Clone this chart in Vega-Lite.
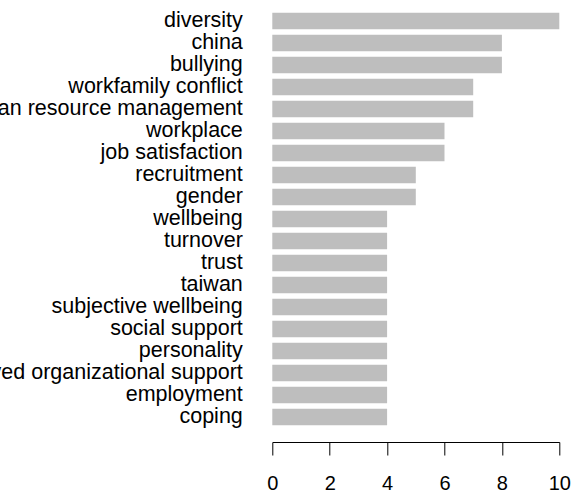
{
  "$schema": "https://vega.github.io/schema/vega-lite/v6.json",
  "autosize": {"type": "none"},
  "width": 287,
  "height": 418,
  "padding": {"left": 272.3, "right": 14.7, "top": 10, "bottom": 65},
  "background": "white",
  "config": {
    "view": {"stroke": null},
    "font": "Liberation Sans"
  },
  "data": {
    "values": [
      {"term": "diversity", "count": 10},
      {"term": "china", "count": 8},
      {"term": "bullying", "count": 8},
      {"term": "workfamily conflict", "count": 7},
      {"term": "human resource management", "count": 7},
      {"term": "workplace", "count": 6},
      {"term": "job satisfaction", "count": 6},
      {"term": "recruitment", "count": 5},
      {"term": "gender", "count": 5},
      {"term": "wellbeing", "count": 4},
      {"term": "turnover", "count": 4},
      {"term": "trust", "count": 4},
      {"term": "taiwan", "count": 4},
      {"term": "subjective wellbeing", "count": 4},
      {"term": "social support", "count": 4},
      {"term": "personality", "count": 4},
      {"term": "perceived organizational support", "count": 4},
      {"term": "employment", "count": 4},
      {"term": "coping", "count": 4}
    ]
  },
  "mark": {"type": "bar", "color": "#BEBEBE"},
  "encoding": {
    "y": {
      "field": "term",
      "type": "nominal",
      "sort": null,
      "scale": {"paddingInner": 0.25, "paddingOuter": 0.125},
      "axis": {
        "title": null,
        "domain": false,
        "ticks": false,
        "labelPadding": 30,
        "labelLimit": 2000,
        "labelFontSize": 21.5,
        "labelColor": "black",
        "labelFont": "Liberation Sans"
      }
    },
    "x": {
      "field": "count",
      "type": "quantitative",
      "scale": {"domain": [0, 10], "nice": false},
      "axis": {
        "title": null,
        "values": [0, 2, 4, 6, 8, 10],
        "grid": false,
        "offset": 14,
        "domainColor": "black",
        "tickColor": "black",
        "tickSize": 13,
        "labelPadding": 18,
        "labelFontSize": 20,
        "labelColor": "black",
        "labelFont": "Liberation Sans",
        "labelFlush": false
      }
    }
  }
}
